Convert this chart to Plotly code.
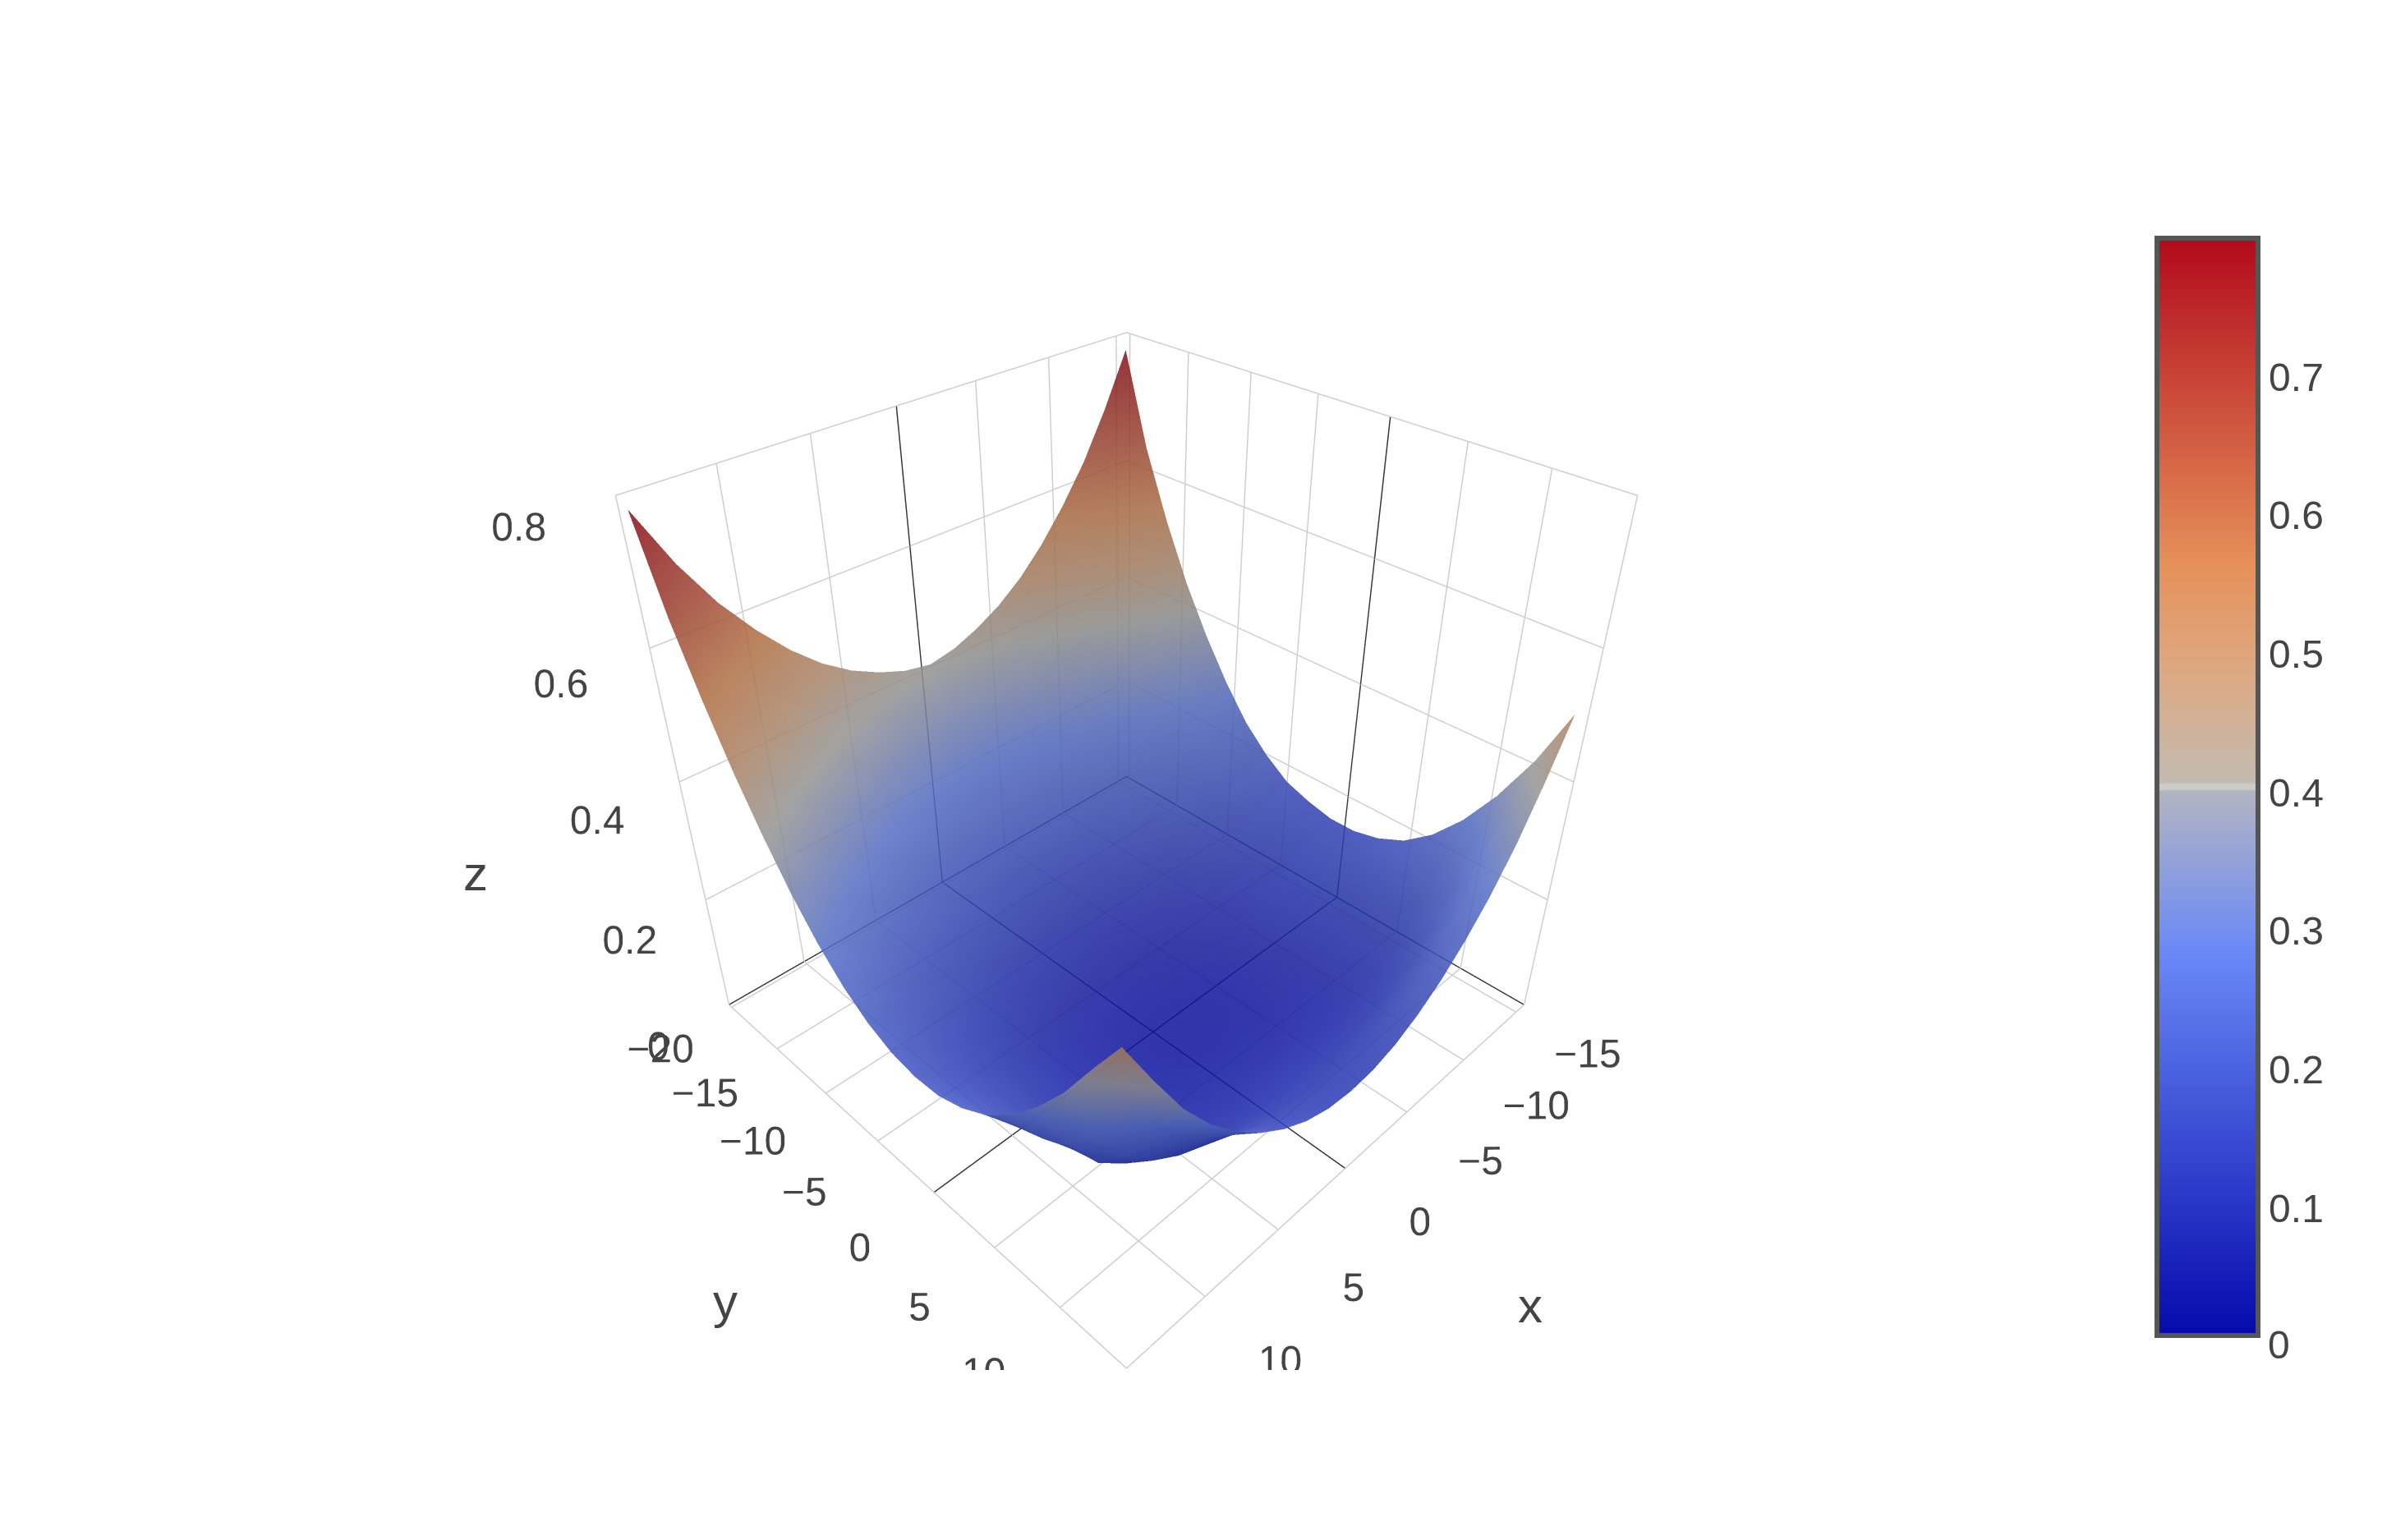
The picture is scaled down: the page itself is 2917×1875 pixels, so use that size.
import plotly.graph_objects as go

x_vals = [-15.3, -13.63, -11.97, -10.3, -8.63, -6.97, -5.3, -3.63, -1.97, -0.3,
          1.37, 3.03, 4.7, 6.37, 8.03, 9.7, 11.37, 13.03, 14.7]
y_vals = [-19.8, -17.9, -16, -14.1, -12.2, -10.3, -8.4, -6.5, -4.6, -2.7, -0.8,
          1.1, 3, 4.9, 6.8, 8.7, 10.6, 12.5, 14.2]

# surface heights, one row per y value
z_vals = [
    [.780, .700, .631, .575, .527, .488, .458, .436, .420, .412, .420, .436, .458, .488, .527, .575, .631, .700, .785],
    [.640, .585, .541, .491, .450, .416, .389, .370, .359, .355, .359, .370, .389, .416, .450, .491, .541, .598, .662],
    [.535, .490, .455, .417, .380, .350, .327, .310, .300, .297, .300, .310, .327, .350, .380, .417, .460, .510, .566],
    [.445, .410, .380, .350, .318, .292, .271, .257, .248, .245, .248, .257, .271, .292, .318, .350, .388, .432, .481],
    [.370, .340, .315, .288, .263, .240, .222, .209, .202, .199, .202, .209, .222, .240, .263, .292, .325, .364, .408],
    [.305, .280, .260, .235, .215, .194, .178, .166, .159, .157, .159, .166, .178, .194, .215, .240, .270, .305, .344],
    [.250, .230, .214, .192, .174, .155, .140, .129, .123, .121, .123, .129, .140, .155, .174, .197, .224, .255, .291],
    [.210, .190, .177, .156, .140, .122, .109, .099, .093, .091, .093, .099, .109, .122, .140, .161, .187, .216, .249],
    [.180, .165, .150, .130, .115, .098, .085, .076, .070, .068, .070, .076, .085, .098, .115, .135, .159, .187, .219],
    [.165, .150, .132, .112, .096, .080, .067, .057, .052, .050, .052, .057, .067, .080, .096, .117, .141, .169, .200],
    [.155, .140, .122, .102, .086, .068, .055, .046, .040, .038, .040, .046, .055, .068, .086, .106, .131, .160, .192],
    [.155, .140, .121, .100, .081, .063, .049, .039, .033, .031, .033, .039, .049, .063, .081, .103, .130, .160, .194],
    [.165, .145, .121, .097, .077, .059, .047, .037, .032, .030, .032, .037, .047, .059, .077, .100, .130, .165, .208],
    [.185, .155, .122, .096, .075, .058, .047, .040, .036, .035, .036, .040, .047, .058, .075, .099, .130, .175, .232],
    [.220, .175, .132, .099, .077, .062, .054, .049, .047, .046, .047, .049, .054, .062, .077, .101, .138, .192, .268],
    [.270, .205, .150, .111, .087, .073, .066, .063, .063, .063, .063, .063, .066, .073, .087, .111, .150, .220, .315],
    [.335, .260, .200, .154, .125, .105, .094, .088, .086, .085, .086, .088, .094, .105, .125, .154, .200, .274, .372],
    [.415, .345, .285, .235, .193, .162, .139, .124, .116, .113, .116, .124, .139, .162, .193, .235, .288, .356, .441],
    [.505, .420, .345, .285, .237, .198, .168, .146, .133, .129, .133, .146, .168, .198, .237, .285, .345, .420, .500],
]

colorbar_ticks = [0.1, 0.2, 0.3, 0.4, 0.5, 0.6, 0.7]

TEXT = "#444"
GRID = "rgb(205,205,205)"
FONT = "Liberation Sans"

colorscale = [
    [0, "rgb(5,10,172)"],
    [0.35, "rgb(106,137,247)"],
    [0.5, "rgb(190,190,190)"],
    [0.6, "rgb(220,170,132)"],
    [0.7, "rgb(230,145,90)"],
    [1, "rgb(178,10,28)"],
]

# same scale with the pale band the colour bar shows at 0.4
colorbar_scale = [
    [0, "rgb(5,10,172)"],
    [0.35, "rgb(106,137,247)"],
    [0.496, "rgb(178,180,194)"],
    [0.498, "rgb(205,205,200)"],
    [0.502, "rgb(205,205,200)"],
    [0.504, "rgb(194,186,176)"],
    [0.6, "rgb(220,170,132)"],
    [0.7, "rgb(230,145,90)"],
    [1, "rgb(178,10,28)"],
]


def axis(dtick, rng):
    # white ticks: their length only pushes the labels away from the box
    return dict(
        title=dict(text=""),
        range=rng, dtick=dtick, tickmode="linear", tickangle=0,
        tickfont=dict(size=24, color=TEXT, family=FONT),
        showbackground=False, showgrid=True, gridcolor=GRID, gridwidth=3,
        showline=True, linecolor=GRID, linewidth=3, mirror="all",
        ticks="outside", tickcolor="white", tickwidth=1, ticklen=72,
        zeroline=True, zerolinecolor="#333", zerolinewidth=3,
        showspikes=False,
    )


def axis_title(text, px, py):
    return dict(
        text=text, xref="paper", yref="paper", x=px / 2917, y=1 - py / 1875,
        xanchor="center", yanchor="middle", showarrow=False,
        font=dict(size=60, color=TEXT, family=FONT),
    )


fig = go.Figure()
fig.add_trace(go.Surface(
    x=x_vals, y=y_vals, z=z_vals, showscale=False,
    colorscale=colorscale, cmin=0.008, cmax=0.8, opacity=0.85,
    lighting=dict(ambient=0.72, diffuse=0.18, specular=0, roughness=1, fresnel=0),
))
# empty trace that only carries the colour bar
fig.add_trace(go.Scatter3d(
    x=[None], y=[None], z=[None], mode="markers", showlegend=False,
    marker=dict(
        color=[0.4], cmin=0.008, cmax=0.8, colorscale=colorbar_scale, showscale=True,
        colorbar=dict(
            x=2618 / 2917, xanchor="left", xpad=0,
            y=1 - 282 / 1875, yanchor="top", ypad=0,
            len=1336 / 1875, lenmode="fraction",
            thickness=123, thicknessmode="pixels",
            outlinecolor="#555", outlinewidth=6, borderwidth=0,
            tickvals=colorbar_ticks, ticks="",
            tickfont=dict(size=48, color=TEXT, family=FONT),
        ),
    ),
))

fig.update_layout(
    template="none", width=2917, height=1875,
    margin=dict(l=0, r=0, t=0, b=0),
    paper_bgcolor="white",
    scene=dict(
        domain=dict(x=[0, 2727 / 2917], y=[1 - 1660 / 1875, 1 - 228 / 1875]),
        xaxis=axis(5, [-15.8, 14.9]),
        yaxis=axis(5, [-20.3, 14.7]),
        zaxis=axis(0.2, [0, 0.8]),
        aspectmode="manual",
        aspectratio=dict(x=1.03, y=1.03, z=1),
        camera=dict(eye=dict(x=1.335, y=1.335, z=1.335)),
    ),
    annotations=[
        axis_title("x", 1855, 1581),
        axis_title("y", 875, 1576),
        axis_title("z", 571, 1055),
        dict(
            text="0", xref="paper", yref="paper", x=2751 / 2917, y=1 - 1629 / 1875,
            xanchor="left", yanchor="middle", showarrow=False,
            font=dict(size=48, color=TEXT, family=FONT),
        ),
    ],
)

fig.write_html("out.html")
